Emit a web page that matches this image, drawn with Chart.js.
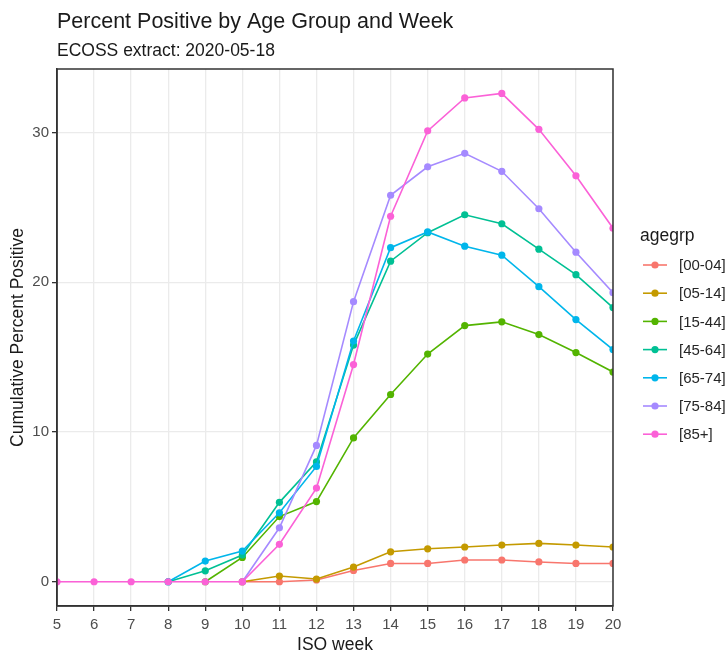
<!DOCTYPE html>
<html lang="en">
<head>
    <meta charset="UTF-8">
    <title>Percent Positive by Age Group and Week</title>
    <script src="https://cdn.jsdelivr.net/npm/chart.js@4"></script>
    <style>
        body { margin: 0; background: #ffffff; }
        #chart { width: 727px; height: 654px; }
    </style>
</head>
<body>
    <div id="chart"><canvas id="canv" width="727" height="654"></canvas></div>
    <script>
        // ISO weeks on the x axis
        const weeks = [5, 6, 7, 8, 9, 10, 11, 12, 13, 14, 15, 16, 17, 18, 19, 20]
        const ageGroups = ['[00-04]', '[05-14]', '[15-44]', '[45-64]', '[65-74]', '[75-84]', '[85+]']
        const colores = ['#F8766D', '#C49A00', '#53B400', '#00C094', '#00B6EB', '#A58AFF', '#FB61D7']

        // cumulative percent positive, one array per age group (weeks 5..20)
        const age00_04 = [null, null, null, null, null, 0, 0, 0.12, 0.75, 1.22, 1.22, 1.45, 1.45, 1.32, 1.22, 1.22]
        const age05_14 = [null, null, null, null, null, 0, 0.38, 0.18, 0.98, 2.0, 2.2, 2.32, 2.45, 2.56, 2.45, 2.32]
        const age15_44 = [null, null, null, null, 0, 1.62, 4.35, 5.35, 9.6, 12.5, 15.2, 17.1, 17.35, 16.5, 15.3, 14.0]
        const age45_64 = [null, null, null, 0, 0.73, 1.78, 5.3, 8.0, 15.8, 21.4, 23.3, 24.5, 23.9, 22.2, 20.5, 18.3]
        const age65_74 = [null, null, null, 0, 1.38, 2.05, 4.6, 7.7, 16.07, 22.3, 23.35, 22.4, 21.8, 19.7, 17.5, 15.5]
        const age75_84 = [null, null, null, null, null, 0, 3.6, 9.1, 18.7, 25.8, 27.7, 28.6, 27.4, 24.9, 22.0, 19.3]
        const age85plus = [0, 0, 0, 0, 0, 0, 2.5, 6.25, 14.5, 24.4, 30.1, 32.3, 32.6, 30.2, 27.1, 23.6]
        const series = [age00_04, age05_14, age15_44, age45_64, age65_74, age75_84, age85plus]

        const yTicks = [0, 10, 20, 30]
        const titulo = 'Percent Positive by Age Group and Week'
        const subtitulo = 'ECOSS extract: 2020-05-18'
        const fuente = "'Liberation Sans', Arial, sans-serif"

        const datasets = series.map((vals, i) => ({
            label: ageGroups[i],
            data: weeks.map((w, j) => ({ x: w, y: vals[j] })),
            borderColor: colores[i],
            backgroundColor: colores[i],
            borderWidth: 1.6,
            pointRadius: 3.6,
            pointHoverRadius: 3.6,
            pointBorderWidth: 0,
            tension: 0,
            clip: 0,
            order: series.length - 1 - i   // last group on top, like ggplot
        }))

        // titles, panel border and the legend, drawn the ggplot way
        const extras = {
            id: 'extras',
            afterDatasetsDraw(chart) {
                const { ctx, chartArea: a } = chart
                ctx.save()
                ctx.strokeStyle = '#333333'
                ctx.lineWidth = 1.5
                ctx.strokeRect(a.left, a.top, a.right - a.left, a.bottom - a.top)
                ctx.restore()
            },
            afterDraw(chart) {
                const { ctx, chartArea: a } = chart
                ctx.save()
                ctx.fillStyle = '#1a1a1a'
                ctx.textAlign = 'left'
                ctx.textBaseline = 'alphabetic'
                ctx.font = '21.5px ' + fuente
                ctx.fillText(titulo, a.left, 28)
                ctx.font = '17.5px ' + fuente
                ctx.fillText(subtitulo, a.left, 56)

                // legend
                ctx.textBaseline = 'middle'
                ctx.font = '17.5px ' + fuente
                ctx.fillText('agegrp', 640, 236)
                ctx.font = '15px ' + fuente
                chart.data.datasets.forEach((ds, i) => {
                    const y = 265 + i * 28.2
                    ctx.strokeStyle = ds.borderColor
                    ctx.lineWidth = 1.6
                    ctx.beginPath()
                    ctx.moveTo(643, y)
                    ctx.lineTo(667, y)
                    ctx.stroke()
                    ctx.fillStyle = ds.borderColor
                    ctx.beginPath()
                    ctx.arc(655, y, 3.6, 0, Math.PI * 2)
                    ctx.fill()
                    ctx.fillStyle = '#262626'
                    ctx.fillText(ds.label, 679, y + 1)
                })
                ctx.restore()
            }
        }

        const config = {
            type: 'line',
            data: { datasets: datasets },
            options: {
                responsive: false,
                animation: false,
                events: [],
                layout: { padding: { top: 69, right: 114, left: 0, bottom: 0 } },
                plugins: {
                    legend: { display: false },
                    title: { display: false },
                    tooltip: { enabled: false }
                },
                scales: {
                    x: {
                        type: 'linear',
                        min: 5,
                        max: 20,
                        afterBuildTicks: (scale) => { scale.ticks = weeks.map(w => ({ value: w })) },
                        afterFit: (scale) => { scale.height = 48 },
                        grid: { color: '#ebebeb', lineWidth: 1.3, tickColor: '#333333', tickLength: 5, tickWidth: 1.3 },
                        border: { color: '#333333', width: 1.5 },
                        ticks: { color: '#4d4d4d', font: { family: fuente, size: 15 }, padding: 4.5, maxRotation: 0, autoSkip: false },
                        title: { display: true, text: 'ISO week', color: '#1a1a1a', font: { family: fuente, size: 17.5, lineHeight: 1 }, padding: 0 }
                    },
                    y: {
                        type: 'linear',
                        min: -1.62,
                        max: 34.23,
                        afterBuildTicks: (scale) => { scale.ticks = yTicks.map(v => ({ value: v })) },
                        afterFit: (scale) => { scale.width = 57 },
                        grid: { color: '#ebebeb', lineWidth: 1.3, tickColor: '#333333', tickLength: 5, tickWidth: 1.3 },
                        border: { color: '#333333', width: 1.5 },
                        ticks: { color: '#4d4d4d', font: { family: fuente, size: 15 }, padding: 3 },
                        title: { display: true, text: 'Cumulative Percent Positive', color: '#1a1a1a', font: { family: fuente, size: 17.5, lineHeight: 1.2 }, padding: { top: 8, bottom: 0 } }
                    }
                }
            },
            plugins: [extras]
        }

        const context = document.getElementById('canv').getContext('2d')
        const chart = new Chart(context, config)
    </script>
</body>
</html>
